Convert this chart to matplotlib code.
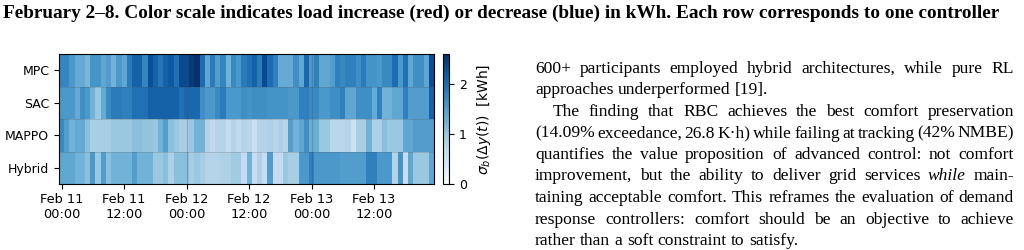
import numpy as np
import matplotlib
matplotlib.use("Agg")
import matplotlib.pyplot as plt
import matplotlib.dates as mdates

# hourly std of load change per controller, Feb 11 00:00 .. Feb 13 23:00
controllers = ["MPC", "SAC", "MAPPO", "Hybrid"]
mpc = [1.75, 1.75, 1.55, 1.35, 1.35, 1.2, 1.6, 1.6, 1.4, 1.5,
       1.25, 1.55, 1.4, 1.85, 2.1, 2.1, 1.75, 2.3, 2.1, 1.9,
       2.1, 2.2, 1.95, 2.35, 2.35, 2.5, 2.6, 2.0, 1.4, 1.85,
       1.5, 1.75, 1.25, 1.7, 1.55, 1.85, 1.95, 2.1, 1.85, 2.35,
       2.0, 1.8, 1.35, 1.35, 1.35, 1.65, 1.4, 2.05, 1.55, 1.8,
       1.4, 1.4, 1.5, 1.8, 1.7, 1.8, 1.8, 1.65, 1.85, 1.6,
       1.6, 1.55, 1.7, 1.7, 2.0, 1.55, 1.95, 1.4, 1.65, 1.65,
       1.4, 2.3]
sac = [1.55, 1.55, 1.55, 1.35, 1.65, 1.55, 1.25, 1.0, 1.35, 1.7,
       1.85, 1.85, 1.8, 1.8, 1.95, 1.95, 1.95, 2.1, 2.1, 2.1,
       2.1, 2.1, 2.1, 1.95, 2.05, 2.05, 2.05, 1.65, 1.55, 1.55,
       1.7, 1.85, 1.55, 1.55, 1.55, 1.65, 1.6, 1.65, 1.65, 1.65,
       1.6, 1.6, 1.6, 1.6, 1.55, 1.55, 1.8, 1.8, 1.7, 1.7,
       1.55, 1.55, 1.65, 1.65, 1.8, 1.4, 1.4, 1.65, 1.65, 1.65,
       1.35, 1.8, 1.25, 1.25, 1.4, 1.4, 1.8, 1.5, 1.5, 1.5,
       1.5, 2.1]
mappo = [1.7, 1.5, 1.25, 1.35, 1.35, 1.1, 0.9, 0.9, 0.9, 0.9,
         1.0, 1.0, 1.0, 1.0, 1.1, 1.1, 1.05, 1.05, 1.0, 1.25,
         1.5, 1.1, 1.0, 0.9, 0.9, 1.0, 1.25, 1.25, 0.8, 0.7,
         0.8, 0.8, 0.65, 0.8, 0.7, 0.8, 0.75, 0.55, 0.8, 0.8,
         0.85, 0.75, 0.85, 0.75, 1.5, 1.25, 1.4, 1.65, 1.3, 1.3,
         1.0, 1.0, 0.75, 0.75, 0.75, 0.8, 0.55, 0.9, 0.9, 1.25,
         0.85, 0.85, 1.1, 1.0, 1.0, 1.0, 1.4, 1.4, 1.5, 1.5,
         1.5, 1.5]
hybrid = [1.4, 1.4, 1.4, 1.25, 1.25, 1.1, 1.55, 1.0, 1.5, 1.1,
          1.25, 1.25, 1.25, 1.25, 1.5, 1.25, 1.25, 1.25, 1.0, 1.0,
          1.1, 0.85, 1.1, 1.1, 1.1, 0.9, 1.0, 0.9, 0.8, 0.8,
          0.8, 0.85, 0.85, 0.95, 0.95, 0.65, 1.25, 0.6, 0.85, 0.6,
          1.5, 0.65, 0.65, 1.0, 0.9, 0.9, 1.55, 1.55, 1.8, 1.55,
          1.55, 1.55, 1.55, 1.55, 1.5, 1.5, 1.5, 1.5, 1.5, 1.8,
          1.8, 1.55, 1.55, 1.55, 0.8, 1.6, 0.6, 1.4, 1.0, 1.0,
          1.0, 1.4]
start = np.datetime64("2024-02-11T00:00")
day_marks = ["2024-02-12T00:00", "2024-02-13T00:00"]
cbar_ticks = [0, 1, 2]

caption = ("February 2\u20138. Color scale indicates load increase (red) or decrease (blue) "
           "in kWh. Each row corresponds to one controller")
# (text, justified, indent)
body = [
    ("600+ participants employed hybrid architectures, while pure RL", True, False),
    ("approaches underperformed [19].", False, False),
    ("The finding that RBC achieves the best comfort preservation", True, True),
    ("(14.09% exceedance, 26.8 K\u00b7h) while failing at tracking (42% NMBE)", True, False),
    ("quantifies the value proposition of advanced control: not comfort", True, False),
    ("improvement, but the ability to deliver grid services *while* main-", True, False),
    ("taining acceptable comfort. This reframes the evaluation of demand", True, False),
    ("response controllers: comfort should be an objective to achieve", True, False),
    ("rather than a soft constraint to satisfy.", False, False),
]

W, H = 1024, 250
fig = plt.figure(figsize=(W / 100, H / 100), dpi=100)

data = np.array([mpc, sac, mappo, hybrid])
n = data.shape[1]
x_edges = start - np.timedelta64(30, "m") + np.arange(n + 1) * np.timedelta64(60, "m")
y_edges = np.arange(len(controllers) + 1)

ax = fig.add_axes([59 / W, 1 - 184 / H, 375 / W, 130 / H])
mesh = ax.pcolormesh(x_edges, y_edges, data, cmap="Blues", vmin=0, vmax=2.6)
ax.set_ylim(len(controllers), 0)
ax.set_yticks(np.arange(len(controllers)) + 0.5)
ax.set_yticklabels(controllers, fontsize=9)
for yb in range(1, len(controllers)):
    ax.axhline(yb, color="0.3", lw=0.5, alpha=0.3)
for d in day_marks:
    ax.axvline(np.datetime64(d), color="0.3", lw=0.8, alpha=0.3)
ax.xaxis.set_major_locator(mdates.HourLocator(byhour=[0, 12]))
ax.xaxis.set_major_formatter(mdates.DateFormatter("%b %d\n%H:%M"))
ax.tick_params(axis="x", labelsize=9.3, pad=3)

cax = fig.add_axes([443 / W, 1 - 184 / H, 6 / W, 130 / H])
cb = fig.colorbar(mesh, cax=cax, ticks=cbar_ticks)
cb.outline.set_linewidth(0.8)
cax.tick_params(labelsize=9)
cb.set_label(r"$\sigma_b(\Delta y(t))$  [kWh]", fontsize=10, labelpad=6)

# caption and body text, laid out in pixel units
fig.canvas.draw()
rend = fig.canvas.get_renderer()
serif = "Liberation Serif"


def px_text(x, y, s, **kw):
    return fig.text(x / W, 1 - y / H, s, va="baseline", ha="left", family=serif, **kw)


cap = px_text(3, 18, caption, fontsize=12, weight="bold")
wc = cap.get_window_extent(rend).width
cap.set_fontsize(12 * (1011 - 3) / wc * 0.985)

body_size = 12.6
x_left, x_indent, x_right = 535, 553, 1014
base0, lead = 73, 21.5
for k, (line, justify, indent) in enumerate(body):
    y = base0 + k * lead
    x0 = x_indent if indent else x_left
    items = []
    for w in line.split(" "):
        italic = w.startswith("*")
        t = px_text(0, y, w.replace("*", ""), fontsize=body_size,
                    style="italic" if italic else "normal")
        items.append((t, t.get_window_extent(rend).width))
    space = body_size * 0.25 * 100 / 72
    if justify and len(items) > 1:
        space = (x_right - x0 - sum(w for _, w in items)) / (len(items) - 1)
    x = x0
    for t, w in items:
        t.set_x(x / W)
        x += w + space

fig.savefig("out.png", dpi=100)
